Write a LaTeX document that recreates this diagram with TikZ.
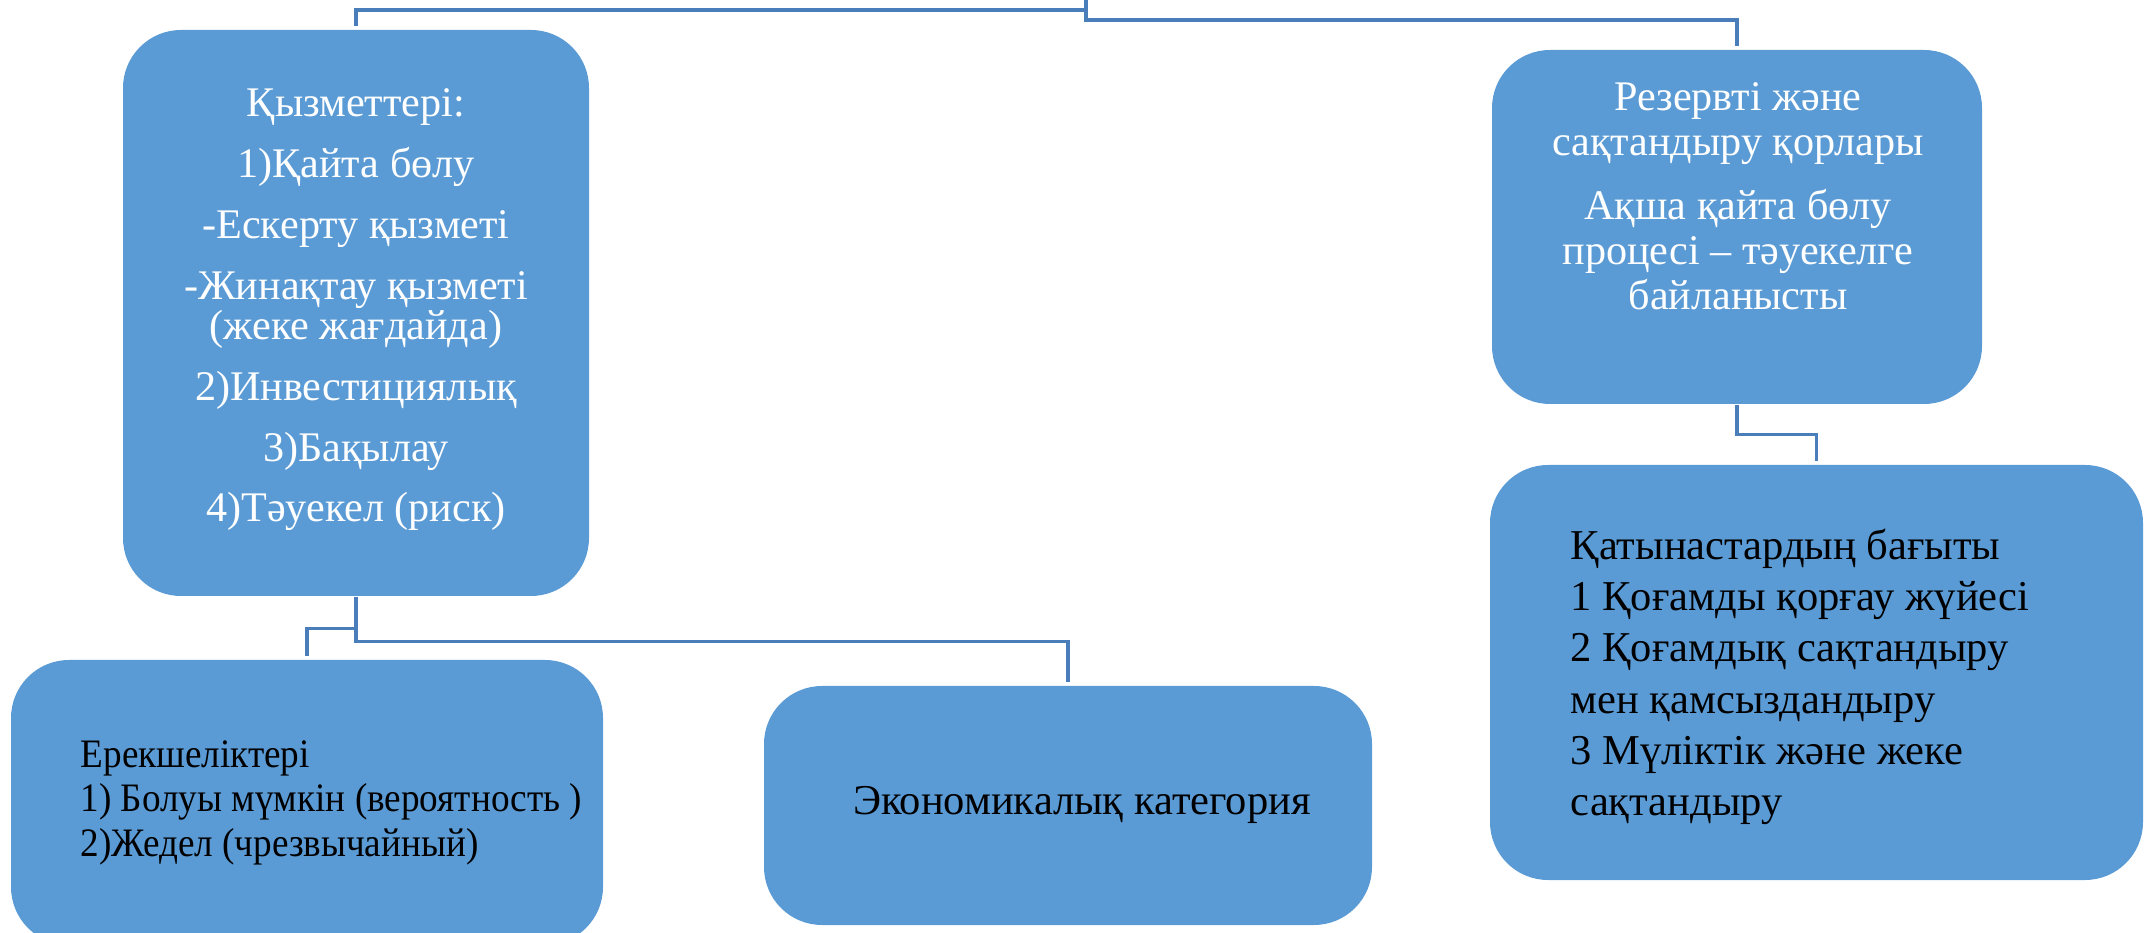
\documentclass[tikz,border=0pt]{standalone}
\usepackage{fontspec}
\setmainfont{Liberation Serif}
\newfontfamily\narrowserif[FakeStretch=0.92]{Liberation Serif}
\definecolor{boxblue}{HTML}{5B9BD5}
\definecolor{linkblue}{HTML}{4A7EBB}

\begin{document}
\begin{tikzpicture}[
    box/.style={fill=boxblue, rounded corners=0.58cm, inner sep=0pt},
    link/.style={draw=linkblue, line width=0.9pt, shorten >=0.035cm},
    lighttext/.style={text=white, align=center, inner sep=0pt,
      font=\fontsize{12}{12.8}\selectfont},
    darktext/.style={text=black, align=left, inner sep=0pt,
      font=\fontsize{12.1}{14.6}\selectfont}
  ]

  \useasboundingbox (0,0) rectangle (21.47,-9.33);
  \clip (0,0) rectangle (21.47,-9.33);

  \coordinate (root) at (10.86,0.20);

  \begin{scope}[every node/.style={box}]
    \node[minimum width=4.66cm, minimum height=5.66cm] (funcs)     at (3.56,-3.13)   {};
    \node[minimum width=4.90cm, minimum height=3.54cm] (reserve)   at (17.37,-2.27)  {};
    \node[minimum width=6.53cm, minimum height=4.15cm] (relations) at (18.165,-6.725) {};
    \node[minimum width=5.92cm, minimum height=2.85cm] (features)  at (3.07,-8.025)  {};
    \node[minimum width=6.08cm, minimum height=2.39cm] (category)  at (10.68,-8.055) {};
  \end{scope}

  \begin{scope}[every path/.style={link}]
    \draw (root) -- ++(0,-0.30) -| (funcs.north);
    \draw (root) -- ++(0,-0.40) -| (reserve.north);
    \draw (funcs.south) -- ++(0,-0.32) -| (features.north);
    \draw (funcs.south) -- ++(0,-0.45) -| (category.north);
    \draw (reserve.south) -- ++(0,-0.30) -| (relations.north);
  \end{scope}

  \node[lighttext, font=\fontsize{12}{11.4}\selectfont] (funcstext) at (3.56,-3.10)
    {Қызметтері:\\[5.9pt]
     1)Қайта бөлу\\[5.9pt]
     -Ескерту қызметі\\[5.9pt]
     -Жинақтау қызметі\\
     (жеке жағдайда)\\[5.9pt]
     2)Инвестициялық\\[5.9pt]
     3)Бақылау\\[5.9pt]
     4)Тәуекел (риск)};

  \node[lighttext] (reservetext) at (17.38,-1.965)
    {Резервті және\\
     сақтандыру қорлары\\[5.4pt]
     Ақша қайта бөлу\\
     процесі – тәуекелге\\
     байланысты};

  \node[darktext, anchor=north west] (relationstext) at (15.70,-5.28)
    {Қатынастардың бағыты\\
     1 Қоғамды қорғау жүйесі\\
     2 Қоғамдық сақтандыру\\
     мен қамсыздандыру\\
     3 Мүліктік және жеке\\
     сақтандыру};

  \node[darktext, anchor=north west, font=\narrowserif\fontsize{11.5}{12.65}\selectfont] (featurestext) at (0.80,-7.40)
    {Ерекшеліктері\\
     1) Болуы мүмкін (вероятность )\\
     2)Жедел (чрезвычайный)};

  \node[darktext, anchor=base] (categorytext) at (10.82,-8.15) {Экономикалық категория};

\end{tikzpicture}
\end{document}
